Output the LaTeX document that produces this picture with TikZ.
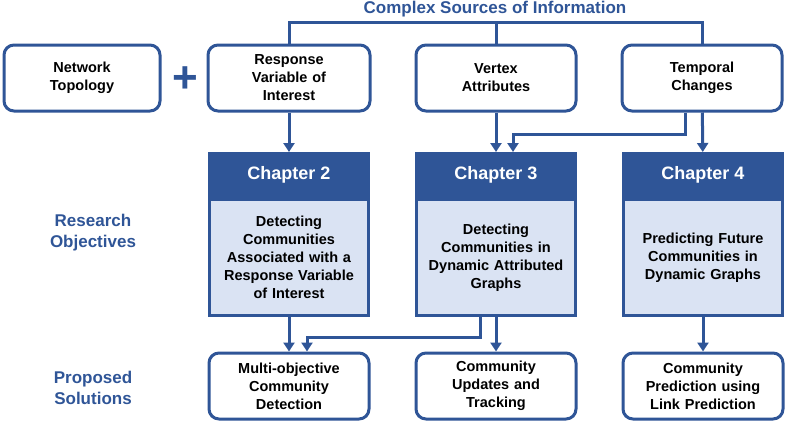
\documentclass[tikz,border=0pt]{standalone}
\usepackage{fontspec}
\setmainfont{Liberation Sans}
\usepackage{tikz}
\usetikzlibrary{arrows.meta,positioning}
\definecolor{darkblue}{HTML}{2F5597}
\definecolor{lightblue}{HTML}{DAE3F3}
\tikzstyle{source} = [draw=darkblue, line width=3pt, rounded corners=10pt, fill=white,
    minimum height=66pt, text width=150pt, align=center, inner sep=0pt,
    font=\fontsize{14.5}{18}\selectfont\bfseries]
\tikzstyle{head} = [draw=darkblue, line width=2pt, fill=darkblue, text=white,
    minimum height=44pt, minimum width=160pt, inner sep=0pt,
    font=\fontsize{18}{21}\selectfont\bfseries]
\tikzstyle{body} = [draw=darkblue, line width=3pt, fill=lightblue,
    minimum height=116pt, minimum width=159pt, text width=150pt, align=center, inner sep=0pt,
    font=\fontsize{14.5}{18}\selectfont\bfseries]
\tikzstyle{sideline} = [text=darkblue, align=center,
    font=\fontsize{17}{21}\selectfont\bfseries]
\tikzstyle{link} = [draw=darkblue, line width=3pt]
\tikzstyle{arrow} = [link, -{Triangle[width=11pt,length=9pt]}]

\begin{document}
\begin{tikzpicture}[x=1pt, y=-1pt]
    \useasboundingbox (0,0) rectangle (790,424);

    % Title
    \node [sideline] (title) at (495,9) {Complex Sources of Information};
    \coordinate (src) at (495,22);

    % Sources of information
    \node [source, minimum width=156pt] (net) at (82,78) {Network\\Topology};
    \node [text=darkblue, font=\fontsize{44}{44}\selectfont\bfseries] (plus) at (185,80) {+};
    \node [source, minimum width=162pt] (resp) at (289,78) {Response\\Variable of\\Interest};
    \node [source, minimum width=160pt] (vert) at (496,78) {Vertex\\Attributes};
    \node [source, minimum width=160pt] (temp) at (702,78) {Temporal\\Changes};

    % Chapters
    \node [head] (ch2) at (289,175) {Chapter 2};
    \node [body, below=0pt of ch2] (obj2) {Detecting\\Communities\\Associated with a\\Response Variable\\of Interest};
    \node [head] (ch3) at (496,175) {Chapter 3};
    \node [body, below=0pt of ch3] (obj3) {Detecting\\Communities in\\Dynamic Attributed\\Graphs};
    \node [head] (ch4) at (703,175) {Chapter 4};
    \node [body, below=0pt of ch4] (obj4) {Predicting Future\\Communities in\\Dynamic Graphs};

    % Proposed solutions
    \node [source, minimum width=160pt] (sol2) at (289,386) {Multi-objective\\Community\\Detection};
    \node [source, minimum width=160pt] (sol3) at (496,386) {Community\\Updates and\\Tracking};
    \node [source, minimum width=160pt] (sol4) at (703,386) {Community\\Prediction using\\Link Prediction};

    % Row labels
    \node [sideline] (objlabel) at (93,233) {Research\\Objectives};
    \node [sideline] (sollabel) at (93,388) {Proposed\\Solutions};

    % Connections
    \draw [link] (resp.north) |- (src) -| (temp.north);
    \draw [link] (vert.north) -- (vert.north |- src);
    \draw [arrow] (resp) -- (ch2);
    \draw [arrow] (vert) -- (ch3);
    \draw [arrow] (temp) -- (ch4);
    \draw [arrow] ([xshift=-17pt]temp.south) -- ++(0,22) -| ([xshift=17pt]ch3.north);

    \draw [arrow] (obj2) -- (sol2);
    \draw [arrow] (obj3) -- (sol3);
    \draw [arrow] ([xshift=-16pt]obj3.south) -- ++(0,20) -| ([xshift=18pt]sol2.north);
    \draw [arrow] (obj4) -- (sol4);
\end{tikzpicture}
\end{document}
